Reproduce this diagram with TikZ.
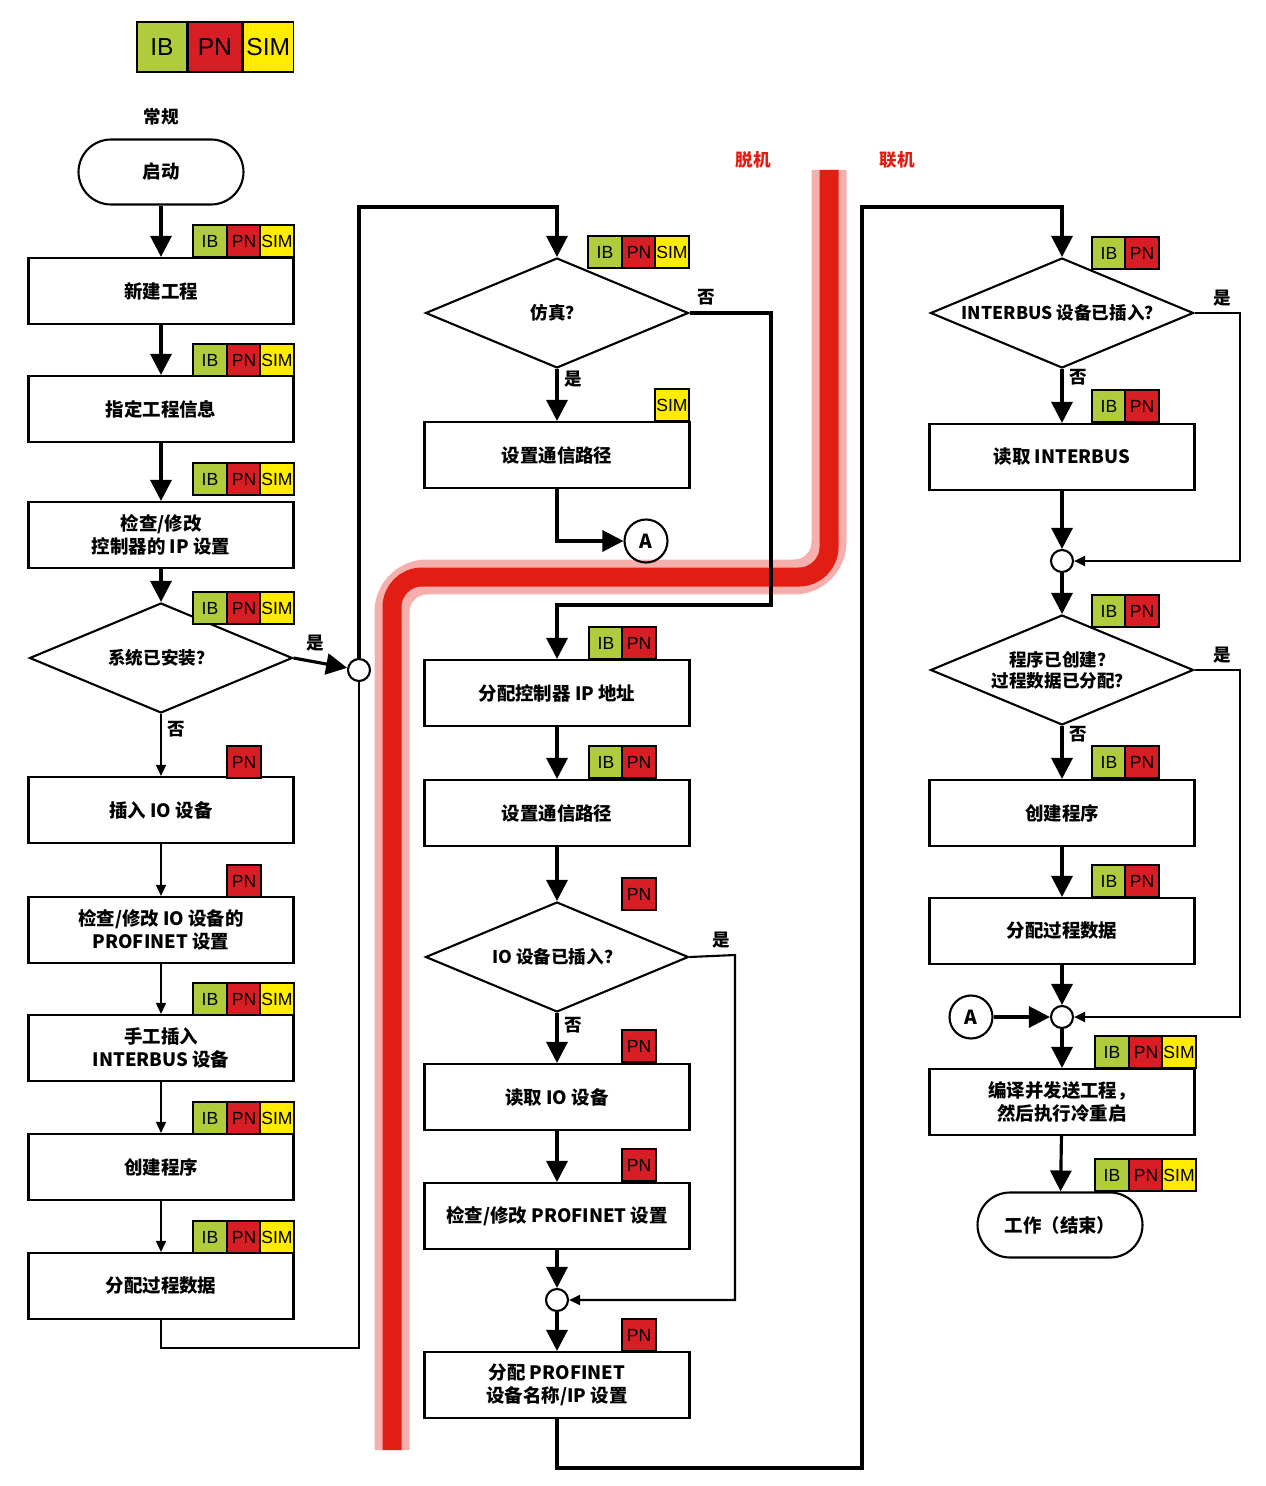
\documentclass[tikz,border=0pt]{standalone}
\usepackage{fontspec}
\setmainfont{Noto Sans CJK SC}
\newfontfamily\tagfont{Liberation Sans}
\usetikzlibrary{positioning, shapes.geometric, arrows.meta}
\definecolor{ibgreen}{RGB}{176,204,60}
\definecolor{pnred}{RGB}{214,30,36}
\definecolor{simyellow}{RGB}{255,236,0}
\definecolor{bandred}{RGB}{226,30,20}
\tikzset{
  box/.style={draw, line width=1.2pt, minimum width=5.3cm, minimum height=1.32cm, align=center, font=\bfseries\fontsize{10.5}{13}\selectfont},
  choice/.style={draw, diamond, line width=1.2pt, minimum width=5.26cm, minimum height=2.2cm, inner sep=0pt,
    label={[align=center, font=\bfseries\fontsize{10}{12}\selectfont]center:#1}},
  term/.style={draw, rounded corners=0.65cm, line width=1.2pt, minimum width=3.3cm, minimum height=1.3cm, font=\bfseries\fontsize{10.5}{13}\selectfont},
  merge/.style={draw, circle, line width=1.2pt, minimum size=0.44cm, inner sep=0pt},
  conn/.style={draw, circle, line width=1.2pt, minimum size=0.86cm, inner sep=0pt, font=\bfseries\fontsize{11}{13}\selectfont},
  tag/.style={draw, line width=0.8pt, minimum width=0.68cm, minimum height=0.64cm, inner sep=0pt, font=\tagfont\fontsize{10}{12}\selectfont},
  big/.style={draw, line width=1.8pt, -{Triangle[length=0.42cm, width=0.42cm]}},
  thin/.style={draw, line width=0.9pt, -{Triangle[length=0.22cm, width=0.2cm]}},
  line/.style={draw, line width=1.8pt},
  lbl/.style={font=\bfseries\fontsize{10}{12}\selectfont},
}
% tag rows, #1 = right edge, #2 = centre y
\newcommand{\tagsall}[2]{%
  \node[tag, fill=ibgreen]   at ({#1-84},#2) {IB};
  \node[tag, fill=pnred]     at ({#1-50},#2) {PN};
  \node[tag, fill=simyellow] at ({#1-17},#2) {SIM};}
\newcommand{\tagsib}[2]{%
  \node[tag, fill=ibgreen]   at ({#1-50},#2) {IB};
  \node[tag, fill=pnred]     at ({#1-17},#2) {PN};}
\newcommand{\tagpn}[2]{\node[tag, fill=pnred] at ({#1-17},#2) {PN};}
\newcommand{\tagsim}[2]{\node[tag, fill=simyellow] at ({#1-17},#2) {SIM};}

\begin{document}
\begin{tikzpicture}[x=0.02cm, y=-0.02cm]
  \useasboundingbox (0,0) rectangle (1266,1486);

  % offline / online band
  \draw[bandred!35, line width=0.7cm, rounded corners=0.7cm] (392,1450) -- (392,577) -- (829,577) -- (829,170);
  \draw[bandred, line width=0.38cm, rounded corners=0.6cm] (392,1450) -- (392,577) -- (829,577) -- (829,170);
  \node[lbl, text=bandred] (offline) at (753,160) {脱机};
  \node[lbl, text=bandred] (online)  at (897,160) {联机};

  % legend
  \node[tag, fill=ibgreen, minimum width=1cm, minimum height=1cm, font=\tagfont\fontsize{14}{16}\selectfont] (legib) at (162,47) {IB};
  \node[tag, fill=pnred, minimum width=1.06cm, minimum height=1cm, font=\tagfont\fontsize{14}{16}\selectfont, right=0pt of legib] (legpn) {PN};
  \node[tag, fill=simyellow, minimum width=1.02cm, minimum height=1cm, font=\tagfont\fontsize{14}{16}\selectfont, right=0pt of legpn] (legsim) {SIM};

  % column 1
  \node[lbl] (general) at (161,117) {常规};
  \node[term, minimum width=3.3cm] (start) at (161,172) {启动};
  \node[box] (new)     at (161,291) {新建工程};
  \node[box] (info)    at (161,409) {指定工程信息};
  \node[box] (ipset)   at (161,535) {检查/修改\\控制器的 IP 设置};
  \node[choice={系统已安装？}] (installed) at (161,658) {};
  \node[box] (insio)   at (161,810) {插入 IO 设备};
  \node[box] (pnset)   at (161,930) {检查/修改 IO 设备的\\PROFINET 设置};
  \node[box] (manual)  at (161,1048) {手工插入\\INTERBUS 设备};
  \node[box] (prog1)   at (161,1167) {创建程序};
  \node[box] (data1)   at (161,1286) {分配过程数据};
  \node[merge] (j1) at (359,670) {};

  \tagsall{294}{241} \tagsall{294}{360} \tagsall{294}{479} \tagsall{294}{608}
  \tagpn{261}{762} \tagpn{261}{881}
  \tagsall{294}{999} \tagsall{294}{1118} \tagsall{294}{1237}

  \draw[big] (start) -- (new);
  \draw[big] (new) -- (info);
  \draw[big] (info) -- (ipset);
  \draw[big] (ipset) -- (installed);
  \draw[thin] (installed) -- node[lbl, right, pos=0.25] {否} (insio);
  \draw[thin] (insio) -- (pnset);
  \draw[thin] (pnset) -- (manual);
  \draw[thin] (manual) -- (prog1);
  \draw[thin] (prog1) -- (data1);
  \draw[big] (installed.east) -- node[lbl, above right, pos=0.1] {是} (j1);
  \draw[line, line width=1.2pt] (data1.south) |- (359,1348) -- (j1.south);

  % column 2
  \node[choice={仿真？}] (simu)   at (557,313) {};
  \node[box] (path1)     at (557,455) {设置通信路径};
  \node[conn] (a1)       at (646,541) {A};
  \node[box] (ctrlip)    at (557,693) {分配控制器 IP 地址};
  \node[box] (path2)     at (557,813) {设置通信路径};
  \node[choice={IO 设备已插入？}] (ioins)  at (557,957) {};
  \node[box] (readio)    at (557,1097) {读取 IO 设备};
  \node[box] (pncheck)   at (557,1216) {检查/修改 PROFINET 设置};
  \node[merge] (j2)       at (557,1300) {};
  \node[box] (pnname)    at (557,1385) {分配 PROFINET\\设备名称/IP 设置};

  \tagsall{689}{252} \tagsim{689}{405} \tagsib{656}{643} \tagsib{656}{762}
  \tagpn{656}{894} \tagpn{656}{1046} \tagpn{656}{1165} \tagpn{656}{1335}

  \draw[big] (j1.north) |- (557,207) -- (simu.north);
  \draw[big] (simu) -- node[lbl, right, pos=0.2] {是} (path1);
  \draw[big] (path1.south) |- (a1);
  \draw[big] (simu.east) -- node[lbl, above, pos=0.2] {否} (771,313) |- (557,605) -- (ctrlip.north);
  \draw[big] (ctrlip) -- (path2);
  \draw[big] (path2) -- (ioins);
  \draw[big] (ioins) -- node[lbl, right, pos=0.25] {否} (readio);
  \draw[big] (readio) -- (pncheck);
  \draw[big] (pncheck) -- (j2);
  \draw[big] (j2) -- (pnname);
  \draw[thin, line width=1.2pt] (ioins.east) -- node[lbl, above, pos=0.7] {是} (735,955) |- (j2);

  % column 3
  \node[choice={INTERBUS 设备已插入？}] (ibins) at (1062,313) {};
  \node[box] (readib)    at (1062,457) {读取 INTERBUS};
  \node[merge] (j3)       at (1062,561) {};
  \node[choice={程序已创建？\\过程数据已分配？}] (done) at (1062,670) {};
  \node[box] (prog2)     at (1062,813) {创建程序};
  \node[box] (data2)     at (1062,931) {分配过程数据};
  \node[merge] (j4)       at (1062,1017) {};
  \node[conn] (a2)       at (971,1017) {A};
  \node[box] (compile)   at (1062,1102) {编译并发送工程，\\然后执行冷重启};
  \node[term] (stop)     at (1060,1225) {工作（结束）};

  \tagsib{1159}{253} \tagsib{1159}{406} \tagsib{1159}{611} \tagsib{1159}{762}
  \tagsib{1159}{881} \tagsall{1196}{1052} \tagsall{1196}{1175}

  \draw[big] (pnname.south) |- (862,1468) |- (1062,207) -- (ibins.north);
  \draw[big] (ibins) -- node[lbl, right, pos=0.15] {否} (readib);
  \draw[big] (readib) -- (j3);
  \draw[line, line width=1.2pt, -{Triangle[length=0.22cm, width=0.2cm]}] (ibins.east) -- node[lbl, above, pos=0.6] {是} (1240,313) |- (j3);
  \draw[big] (j3) -- (done);
  \draw[big] (done) -- node[lbl, right, pos=0.15] {否} (prog2);
  \draw[line, line width=1.2pt, -{Triangle[length=0.22cm, width=0.2cm]}] (done.east) -- node[lbl, above, pos=0.6] {是} (1240,670) |- (j4);
  \draw[big] (prog2) -- (data2);
  \draw[big] (data2) -- (j4);
  \draw[big] (a2) -- (j4);
  \draw[big] (j4) -- (compile);
  \draw[big] (compile) -- (stop);
\end{tikzpicture}
\end{document}
